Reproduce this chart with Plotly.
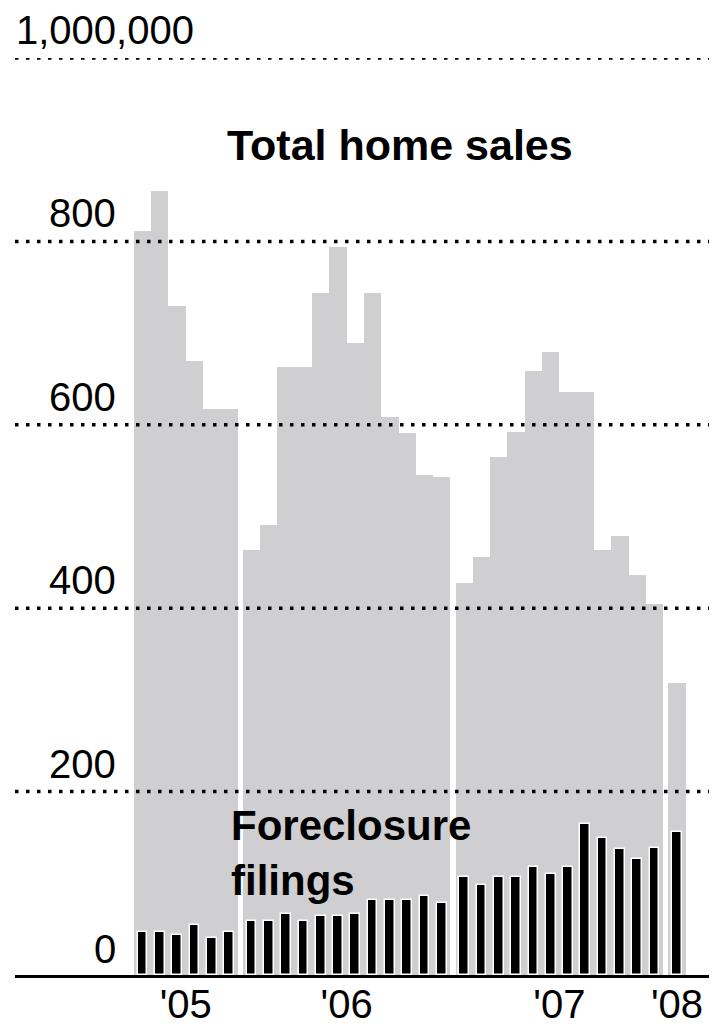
import numpy as np
import pandas as pd
import plotly.graph_objects as go

# Monthly values, thousands, Jul 2005 - Jan 2008
months = pd.date_range("2005-07-01", "2008-01-01", freq="MS")

home_sales = [
    811, 855, 730, 670, 617, 617,                                # 2005
    464, 491, 663, 663, 744, 794, 689, 744, 608, 591, 545, 543,  # 2006
    428, 456, 565, 592, 659, 679, 636, 636, 464, 479, 436, 405,  # 2007
    318,                                                          # 2008
]
foreclosures = [
    47, 47, 44, 55, 40, 47,
    59, 59, 67, 59, 64, 64, 67, 82, 82, 82, 86, 78,
    107, 98, 107, 107, 118, 110, 118, 165, 149, 137, 126, 138,
    156,
]

tick_vals = [0, 200, 400, 600, 800, 1000]
tick_text = ["0", "200", "400", "600", "800", "1,000,000"]
year_text = {2005: "'05", 2006: "'06", 2007: "'07", 2008: "'08"}

GRAY = "#cfcfd1"
FONT = "Liberation Sans, Arial, Helvetica, sans-serif"

# one unit per month, small white gap between calendar years
years = months.year.values
x = np.arange(len(months)) + 0.3 * (years - years[0])

fig = go.Figure()

fig.add_trace(go.Bar(
    x=x, y=home_sales,
    width=1.0,
    marker=dict(color=GRAY, line=dict(width=0)),
    name="Total home sales",
    showlegend=False,
))

fig.add_trace(go.Bar(
    x=x, y=foreclosures,
    width=0.56,
    marker=dict(color="black", line=dict(color="white", width=1.5)),
    name="Foreclosure filings",
    showlegend=False,
))

# dotted reference lines drawn over the bars
for v in tick_vals[1:]:
    fig.add_shape(type="line", xref="paper", yref="y",
                  x0=0, x1=1, y0=v, y1=v, layer="above",
                  line=dict(color="black", width=3.5, dash="3.5px,7.5px"))

# value labels sit just above their lines
for v, t in zip(tick_vals, tick_text):
    big = v == 1000
    fig.add_annotation(
        xref="paper", yref="y",
        x=-0.002 if big else 0.148, y=v,
        xanchor="left" if big else "right", yanchor="bottom",
        yshift=4 if v else 2,
        text=t, showarrow=False,
        font=dict(family=FONT, size=40, color="black"),
    )

fig.add_annotation(
    xref="paper", yref="paper", x=0.555, y=0.8768,
    xanchor="center", yanchor="bottom",
    text="Total home sales", showarrow=False,
    font=dict(family=FONT, size=43, color="black", weight="bold"),
)
fig.add_annotation(
    xref="paper", yref="paper", x=0.3084, y=0.075,
    xanchor="left", yanchor="bottom", align="left",
    text="Foreclosure<br>filings", showarrow=False,
    font=dict(family=FONT, size=42, color="black", weight="bold"),
)

year_pos = [x[years == y].mean() for y in year_text]

fig.update_layout(
    width=701, height=1030,
    margin=dict(l=7, r=0, t=50, b=63),
    paper_bgcolor="white", plot_bgcolor="white",
    barmode="overlay", bargap=0,
    xaxis=dict(range=[-7.37, 32.75], showgrid=False, zeroline=False,
               showline=True, linecolor="black", linewidth=3,
               ticks="", tickvals=year_pos, ticktext=list(year_text.values()),
               ticklabelstandoff=-8,
               tickfont=dict(family=FONT, size=40, color="black"),
               fixedrange=True),
    yaxis=dict(range=[0, 1000], showgrid=False, zeroline=False,
               showticklabels=False, fixedrange=True),
)

fig.write_html("out.html")
